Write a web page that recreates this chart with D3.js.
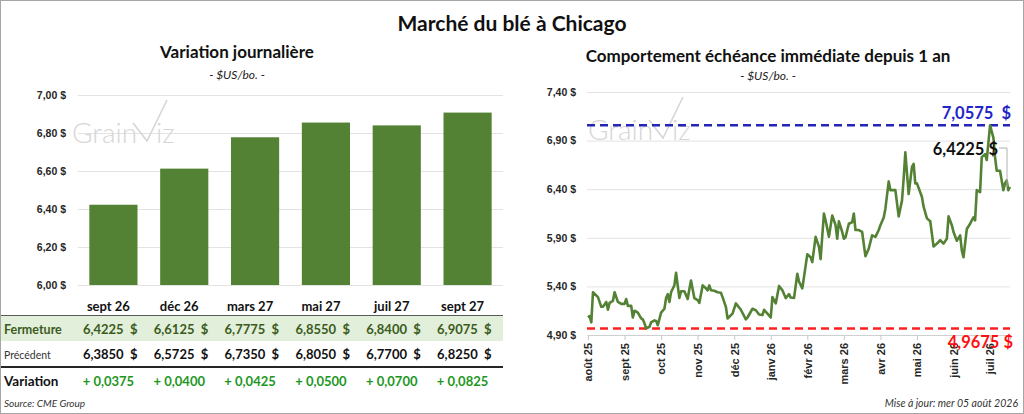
<!DOCTYPE html>
<html><head><meta charset="utf-8">
<script src="https://cdn.jsdelivr.net/npm/d3@7"></script>
<style>
body{margin:0;background:#fff}
svg{display:block;font-family:Lato,"Open Sans",sans-serif}
</style>
</head><body>
<svg id="c" width="1024" height="414"></svg>
<script>
// ---------- DATA ----------
const contracts = ["sept 26","déc 26","mars 27","mai 27","juil 27","sept 27"];
const fermeture = [6.4225, 6.6125, 6.7775, 6.8550, 6.8400, 6.9075];
const precedent = [6.3850, 6.5725, 6.7350, 6.8050, 6.7700, 6.8250];
const variation = [0.0375, 0.0400, 0.0425, 0.0500, 0.0700, 0.0825];
const leftTicks = [6.00, 6.20, 6.40, 6.60, 6.80, 7.00];

const monthLabels = ["août 25","sept 25","oct 25","nov 25","déc 25","janv 26","févr 26","mars 26","avr 26","mai 26","juin 26","juil 26"];
const labelEvery = 22;          // trading sessions between labels
const sessionCount = 255;       // sessions over one year
const rightTicks = [4.90, 5.40, 5.90, 6.40, 6.90, 7.40];
// [session index, $US/bo.]
const series = [[0,5.08],[1,5.095],[2,5.03],[3,5.34],[6,5.29],[8,5.19],[9,5.19],[11,5.24],[12,5.16],[13,5.23],[15,5.25],[16,5.34],[18,5.24],[20,5.22],[22,5.22],[23,5.27],[24,5.20],[26,5.20],[27,5.08],[28,5.15],[30,5.13],[32,5.07],[33,5.06],[34,5.02],[35,4.9675],[37,4.985],[38,5.03],[40,5.05],[41,5.045],[42,5.00],[44,5.13],[46,5.17],[47,5.28],[48,5.32],[49,5.24],[50,5.34],[52,5.41],[53,5.54],[55,5.28],[56,5.35],[58,5.35],[60,5.27],[61,5.37],[62,5.46],[64,5.28],[66,5.26],[67,5.23],[69,5.41],[71,5.38],[72,5.36],[73,5.41],[74,5.36],[76,5.355],[78,5.34],[80,5.335],[81,5.29],[83,5.19],[84,5.07],[87,5.12],[89,5.225],[92,5.16],[95,5.06],[96,5.08],[99,5.17],[101,5.155],[103,5.11],[105,5.105],[106,5.16],[108,5.12],[110,5.08],[111,5.29],[113,5.225],[115,5.405],[117,5.36],[119,5.28],[121,5.32],[122,5.285],[124,5.28],[126,5.53],[127,5.45],[129,5.38],[132,5.73],[134,5.70],[135,5.65],[137,5.91],[139,5.81],[140,5.68],[142,6.15],[143,6.08],[145,5.91],[147,6.13],[149,6.03],[150,5.89],[151,6.07],[153,5.96],[154,5.89],[155,5.905],[157,6.045],[159,6.06],[160,6.15],[161,5.98],[163,5.98],[165,5.96],[167,5.71],[169,5.79],[171,5.925],[173,5.91],[175,5.98],[176,6.03],[178,6.11],[179,6.20],[181,6.48],[182,6.39],[185,6.39],[187,6.12],[189,6.285],[190,6.51],[191,6.78],[193,6.35],[195,6.63],[196,6.66],[197,6.46],[198,6.46],[201,6.32],[202,6.22],[204,6.10],[206,6.07],[208,5.81],[210,5.84],[212,5.875],[214,5.84],[216,5.89],[217,6.12],[219,6.03],[220,5.96],[222,5.87],[224,5.925],[225,5.77],[226,5.70],[228,5.99],[230,6.045],[232,6.11],[233,6.08],[234,6.39],[236,6.37],[237,6.73],[239,6.76],[240,6.70],[242,7.0575],[244,6.93],[245,6.73],[246,6.59],[248,6.59],[250,6.39],[251,6.46],[252,6.49],[253,6.39],[254,6.4225]];
const high = 7.0575, low = 4.9675, last = 6.4225;

// ---------- HELPERS ----------
const loc = d3.formatLocale({decimal:",", thousands:"\u00a0", grouping:[3], currency:["","\u00a0$"]});
const f2 = loc.format(".2f"), f4 = loc.format(".4f");
const svg = d3.select("#c");
const green = "#548235";

svg.append("rect").attr("x",0.5).attr("y",0.5).attr("width",1023).attr("height",413)
  .attr("fill","#fff").attr("stroke","#a6a6a6");

svg.append("text").attr("x",512).attr("y",31).attr("text-anchor","middle")
  .attr("font-size",21).attr("font-weight",700).attr("fill","#111").text("Marché du blé à Chicago");

function watermark(x0, y0){
  const g = svg.append("g").attr("fill","#d6d6d6").attr("font-size",28).attr("font-weight",300);
  g.append("text").attr("x",x0).attr("y",y0).text("Grain");
  g.append("path").attr("d",`M${x0+61},${y0-20} L${x0+75},${y0-2} L${x0+95},${y0-43}`)
    .attr("fill","none").attr("stroke","#d6d6d6").attr("stroke-width",1.6);
  g.append("text").attr("x",x0+84).attr("y",y0).text("iz");
}

// ---------- LEFT: bar chart ----------
const xL = d3.scaleBand().domain(contracts).range([78,503]).paddingInner(0.32).paddingOuter(0.16);
const yL = d3.scaleLinear().domain([6,7]).range([285,95]);

svg.append("text").attr("x",237).attr("y",58).attr("text-anchor","middle")
  .attr("font-size",17).attr("font-weight",700).attr("fill","#111").text("Variation journalière");
svg.append("text").attr("x",237).attr("y",79).attr("text-anchor","middle")
  .attr("font-size",12).attr("font-style","italic").attr("fill","#222").text("- $US/bo. -");

const gyL = svg.append("g").attr("transform","translate(78,0)")
  .call(d3.axisLeft(yL).tickValues(leftTicks).tickSize(-425).tickPadding(12).tickFormat(d=>f2(d)+" $"));
gyL.select(".domain").remove();
gyL.selectAll("line").attr("stroke","#e3e3e3");
gyL.selectAll("text").attr("font-size",10.5).attr("font-weight",700).attr("fill","#262626");

watermark(72,143);

svg.append("g").selectAll("rect").data(contracts).join("rect")
  .attr("x",d=>xL(d)).attr("width",xL.bandwidth())
  .attr("y",(d,i)=>yL(fermeture[i])).attr("height",(d,i)=>yL(6)-yL(fermeture[i]))
  .attr("fill",green);

// table
const colC = d => xL(d)+xL.bandwidth()/2-5;
const colR = d => xL(d)+xL.bandwidth();
svg.append("rect").attr("x",1).attr("y",316).attr("width",502).attr("height",25).attr("fill","#e2efda");
svg.append("line").attr("x1",1).attr("x2",503).attr("y1",315.5).attr("y2",315.5).attr("stroke","#595959").attr("stroke-width",1.2);
svg.append("line").attr("x1",1).attr("x2",503).attr("y1",367).attr("y2",367).attr("stroke","#262626").attr("stroke-width",2.2);

const tb = svg.append("g").attr("font-weight",700).attr("font-size",12.5);
tb.selectAll(".hd").data(contracts).join("text").attr("class","hd")
  .attr("x",colC).attr("y",311).attr("text-anchor","middle").attr("font-size",13).attr("fill","#111").text(d=>d);
tb.append("text").attr("x",4).attr("y",334).attr("fill","#3b5b20").text("Fermeture");
tb.selectAll(".fe").data(contracts).join("text").attr("class","fe")
  .attr("x",colR).attr("y",334).attr("text-anchor","end").attr("fill","#3b5b20").attr("font-size",13)
  .text((d,i)=>f4(fermeture[i])+"\u00a0\u00a0$");
svg.append("text").attr("x",4).attr("y",359).attr("font-size",10.5).attr("fill","#333").text("Précédent");
tb.selectAll(".pr").data(contracts).join("text").attr("class","pr")
  .attr("x",colR).attr("y",359).attr("text-anchor","end").attr("fill","#111").attr("font-size",13)
  .text((d,i)=>f4(precedent[i])+"\u00a0\u00a0$");
tb.append("text").attr("x",4).attr("y",386).attr("font-size",13.5).attr("fill","#111").text("Variation");
tb.selectAll(".va").data(contracts).join("text").attr("class","va")
  .attr("x",colC).attr("y",386).attr("text-anchor","middle").attr("fill","#1e961e").attr("font-size",13)
  .text((d,i)=>"+ "+f4(variation[i]));

svg.append("text").attr("x",4).attr("y",407).attr("font-size",10).attr("font-style","italic")
  .attr("fill","#333").text("Source: CME Group");

// ---------- RIGHT: line chart ----------
const xR = d3.scaleLinear().domain([0,sessionCount-1]).range([588,1010]);
const yR = d3.scaleLinear().domain([4.9,7.4]).range([335,92]);

svg.append("text").attr("x",768).attr("y",62).attr("text-anchor","middle")
  .attr("font-size",17).attr("font-weight",700).attr("fill","#111").text("Comportement échéance immédiate depuis 1 an");
svg.append("text").attr("x",768).attr("y",80).attr("text-anchor","middle")
  .attr("font-size",12).attr("font-style","italic").attr("fill","#222").text("- $US/bo. -");

const gyR = svg.append("g").attr("transform","translate(587,0)")
  .call(d3.axisLeft(yR).tickValues(rightTicks).tickSize(-423).tickPadding(11).tickFormat(d=>f2(d)+" $"));
gyR.select(".domain").remove();
gyR.selectAll("line").attr("stroke","#e3e3e3");
gyR.selectAll("text").attr("font-size",10.5).attr("font-weight",700).attr("fill","#262626");

const gxR = svg.append("g").attr("transform","translate(0,335)")
  .call(d3.axisBottom(xR).tickValues(monthLabels.map((d,i)=>i*labelEvery)).tickSize(5)
    .tickFormat(v=>monthLabels[Math.round(v/labelEvery)]));
gxR.select(".domain").attr("stroke","#d0d0d0");
gxR.selectAll("line").attr("stroke","#c8c8c8");
gxR.selectAll("text").attr("transform","rotate(-90)").attr("x",-8).attr("y",0).attr("dy","0.35em")
  .attr("text-anchor","end").attr("font-size",11).attr("font-weight",700).attr("fill","#262626");

watermark(588,140);

svg.append("line").attr("x1",587).attr("x2",1010).attr("y1",yR(high)).attr("y2",yR(high))
  .attr("stroke","#2424b8").attr("stroke-width",2.5).attr("stroke-dasharray","8,5");
svg.append("line").attr("x1",587).attr("x2",1010).attr("y1",yR(low)).attr("y2",yR(low))
  .attr("stroke","#ff1f1f").attr("stroke-width",2.5).attr("stroke-dasharray","8,5");

svg.append("path").datum(series)
  .attr("d",d3.line().x(d=>xR(d[0])).y(d=>yR(d[1])))
  .attr("fill","none").attr("stroke",green).attr("stroke-width",2.6).attr("stroke-linejoin","round");

const lastPt = series[series.length-1];
svg.append("path").attr("d",`M999,148 H${xR(lastPt[0])-3} V${yR(last)}`)
  .attr("fill","none").attr("stroke","#b0b0b0").attr("stroke-width",1);

svg.append("text").attr("x",1011).attr("y",119).attr("text-anchor","end")
  .attr("font-size",16.5).attr("font-weight",700).attr("fill","#2424c8").text(f4(high)+"\u00a0\u00a0$");
svg.append("text").attr("x",998).attr("y",155).attr("text-anchor","end")
  .attr("font-size",16.5).attr("font-weight",700).attr("fill","#111").text(f4(last)+" $");
svg.append("text").attr("x",1013).attr("y",348).attr("text-anchor","end")
  .attr("font-size",16.5).attr("font-weight",700).attr("fill","#ff1010").text(f4(low)+" $");

svg.append("text").attr("x",1018).attr("y",407).attr("text-anchor","end").attr("font-size",10.5)
  .attr("font-style","italic").attr("fill","#333").text("Mise à jour: mer 05 août 2026");
</script>
</body></html>
